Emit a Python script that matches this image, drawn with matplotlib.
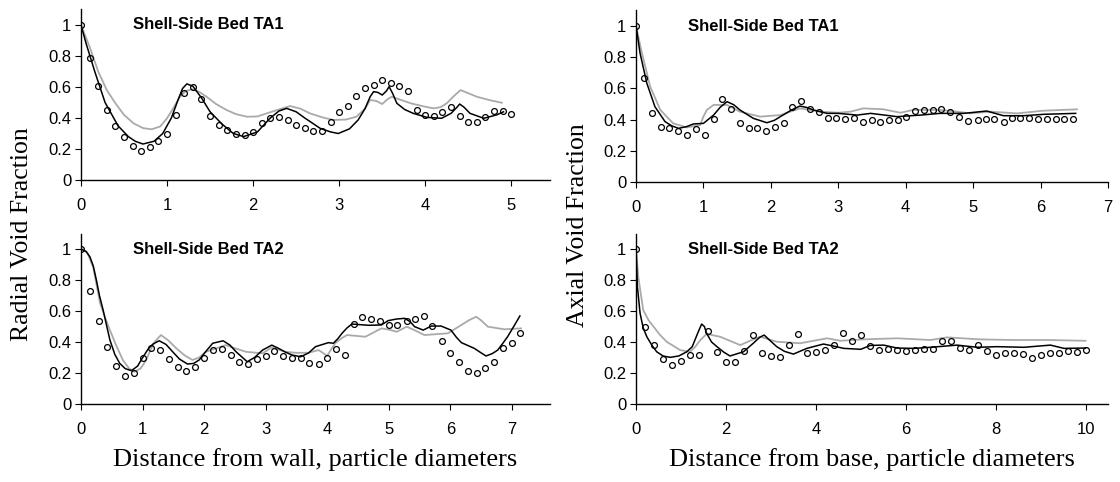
#Void fraction profiles for shell-side beds TA1 and TA2
#Radial (left) and axial (right) profiles, experiment (circles) vs two models (lines)
import matplotlib
matplotlib.use('Agg')
import matplotlib.pyplot as plt

#Radial TA1 - measured points
rad1_x = [0, 0.1, 0.2, 0.3, 0.4, 0.5, 0.6, 0.7, 0.8, 0.9, 1.0, 1.1, 1.2, 1.3, 1.4, 1.5, 1.6,
          1.7, 1.8, 1.9, 2.0, 2.1, 2.2, 2.3, 2.4, 2.5, 2.6, 2.7, 2.8, 2.9, 3.0, 3.1, 3.2, 3.3,
          3.4, 3.5, 3.6, 3.7, 3.8, 3.9, 4.0, 4.1, 4.2, 4.3, 4.4, 4.5, 4.6, 4.7, 4.8, 4.9, 5.0]
rad1_y = [1.0, 0.785, 0.606, 0.452, 0.348, 0.275, 0.219, 0.189, 0.21, 0.254, 0.297, 0.417,
          0.559, 0.598, 0.52, 0.413, 0.357, 0.323, 0.297, 0.288, 0.31, 0.366, 0.398, 0.409,
          0.387, 0.355, 0.333, 0.316, 0.318, 0.374, 0.44, 0.477, 0.544, 0.596, 0.613, 0.645,
          0.624, 0.606, 0.574, 0.452, 0.419, 0.413, 0.439, 0.469, 0.413, 0.376, 0.376, 0.404,
          0.443, 0.443, 0.426]
#Radial TA1 - model lines
rad1_m1_x = [0, 0.06, 0.16, 0.28, 0.43, 0.55, 0.63, 0.72, 0.85, 0.95, 1.05, 1.13, 1.18, 1.23,
             1.3, 1.4, 1.5, 1.64, 1.77, 1.89, 2.05, 2.2, 2.3, 2.39, 2.5, 2.6, 2.78, 2.9, 2.99,
             3.12, 3.22, 3.3, 3.36, 3.4, 3.45, 3.5, 3.55, 3.58, 3.62, 3.67, 3.76, 3.86, 4.02,
             4.19, 4.3, 4.37, 4.4, 4.45, 4.52, 4.68, 4.83, 4.91]
rad1_m1_y = [1.0, 0.88, 0.7, 0.5, 0.35, 0.28, 0.25, 0.232, 0.25, 0.3, 0.4, 0.52, 0.59, 0.62,
             0.605, 0.53, 0.44, 0.36, 0.3, 0.28, 0.31, 0.4, 0.445, 0.462, 0.44, 0.4, 0.333,
             0.31, 0.3, 0.33, 0.387, 0.46, 0.537, 0.57, 0.565, 0.548, 0.575, 0.602, 0.56, 0.495,
             0.455, 0.43, 0.404, 0.398, 0.43, 0.47, 0.49, 0.47, 0.43, 0.398, 0.42, 0.44]
rad1_m2_x = [0, 0.1, 0.2, 0.3, 0.4, 0.5, 0.61, 0.72, 0.82, 0.92, 1.0, 1.08, 1.15, 1.22, 1.29,
             1.37, 1.46, 1.57, 1.69, 1.8, 1.93, 2.05, 2.16, 2.3, 2.43, 2.55, 2.66, 2.8, 2.93,
             3.08, 3.2, 3.3, 3.36, 3.43, 3.5, 3.56, 3.61, 3.7, 3.83, 3.98, 4.1, 4.18, 4.25,
             4.33, 4.41, 4.5, 4.6, 4.75, 4.89]
rad1_m2_y = [1.0, 0.86, 0.7, 0.58, 0.495, 0.42, 0.366, 0.335, 0.327, 0.345, 0.398, 0.47,
             0.537, 0.575, 0.585, 0.57, 0.537, 0.49, 0.452, 0.425, 0.408, 0.41, 0.43, 0.455,
             0.477, 0.46, 0.43, 0.405, 0.387, 0.39, 0.408, 0.46, 0.516, 0.51, 0.49, 0.52, 0.537,
             0.52, 0.495, 0.475, 0.462, 0.47, 0.495, 0.54, 0.58, 0.56, 0.537, 0.515, 0.498]

#Radial TA2 - measured points
rad2_x = [0, 0.14, 0.29, 0.43, 0.57, 0.71, 0.86, 1.0, 1.14, 1.29, 1.43, 1.57, 1.71, 1.86, 2.0,
          2.14, 2.29, 2.43, 2.57, 2.71, 2.86, 3.0, 3.14, 3.29, 3.43, 3.57, 3.71, 3.86, 4.0,
          4.14, 4.29, 4.43, 4.57, 4.71, 4.86, 5.0, 5.14, 5.29, 5.43, 5.57, 5.71, 5.86, 6.0,
          6.14, 6.29, 6.43, 6.57, 6.71, 6.86, 7.0, 7.14]
rad2_y = [1.0, 0.731, 0.538, 0.366, 0.245, 0.181, 0.198, 0.295, 0.363, 0.348, 0.288, 0.241,
          0.215, 0.241, 0.297, 0.348, 0.357, 0.316, 0.273, 0.258, 0.288, 0.31, 0.344, 0.312,
          0.295, 0.295, 0.267, 0.258, 0.295, 0.353, 0.318, 0.516, 0.563, 0.548, 0.538, 0.512,
          0.512, 0.538, 0.55, 0.568, 0.505, 0.408, 0.331, 0.273, 0.215, 0.198, 0.234, 0.273,
          0.359, 0.396, 0.456]
#Radial TA2 - model lines
rad2_m1_x = [0, 0.08, 0.145, 0.2, 0.25, 0.3, 0.36, 0.42, 0.47, 0.55, 0.63, 0.72, 0.82, 0.92,
             1.01, 1.1, 1.17, 1.27, 1.38, 1.49, 1.6, 1.73, 1.83, 1.92, 2.03, 2.14, 2.31, 2.42,
             2.52, 2.7, 2.82, 2.95, 3.1, 3.21, 3.32, 3.43, 3.57, 3.7, 3.81, 4.02, 4.1, 4.17,
             4.24, 4.32, 4.4, 4.67, 4.88, 4.99, 5.12, 5.26, 5.35, 5.42, 5.56, 5.69, 5.85, 6.01,
             6.1, 6.18, 6.39, 6.5, 6.58, 6.68, 6.77, 6.85, 6.93, 7.03, 7.13]
rad2_m1_y = [1.0, 0.985, 0.95, 0.89, 0.8, 0.7, 0.606, 0.5, 0.413, 0.32, 0.262, 0.228, 0.215,
             0.245, 0.305, 0.36, 0.387, 0.408, 0.385, 0.337, 0.29, 0.258, 0.262, 0.284, 0.34,
             0.392, 0.408, 0.38, 0.337, 0.273, 0.3, 0.348, 0.38, 0.359, 0.335, 0.316, 0.305,
             0.33, 0.37, 0.396, 0.392, 0.42, 0.456, 0.49, 0.516, 0.508, 0.51, 0.538, 0.548,
             0.553, 0.53, 0.499, 0.477, 0.503, 0.503, 0.477, 0.43, 0.396, 0.359, 0.33, 0.31,
             0.325, 0.348, 0.39, 0.434, 0.5, 0.568]
rad2_m2_x = [0, 0.1, 0.2, 0.31, 0.39, 0.47, 0.57, 0.68, 0.78, 0.87, 0.97, 1.06, 1.13, 1.2,
             1.3, 1.42, 1.55, 1.68, 1.81, 1.92, 2.03, 2.2, 2.35, 2.5, 2.68, 2.95, 3.1, 3.32,
             3.5, 3.7, 3.86, 3.93, 4.0, 4.06, 4.13, 4.22, 4.32, 4.62, 4.88, 5.0, 5.13, 5.29,
             5.4, 5.58, 5.96, 6.18, 6.3, 6.42, 6.5, 6.61, 6.88, 7.15]
rad2_m2_y = [1.0, 0.98, 0.88, 0.65, 0.56, 0.477, 0.38, 0.284, 0.23, 0.208, 0.23, 0.284,
             0.35, 0.402, 0.445, 0.41, 0.359, 0.315, 0.284, 0.3, 0.337, 0.36, 0.38, 0.36,
             0.337, 0.327, 0.365, 0.337, 0.33, 0.331, 0.348, 0.33, 0.31, 0.35, 0.392, 0.42,
             0.445, 0.434, 0.488, 0.48, 0.466, 0.499, 0.48, 0.445, 0.456, 0.51, 0.54, 0.563,
             0.54, 0.499, 0.482, 0.488]

#Axial TA1 - measured points
ax1_x = [0, 0.12, 0.24, 0.37, 0.49, 0.62, 0.76, 0.89, 1.02, 1.15, 1.28, 1.41, 1.54, 1.67, 1.8,
         1.93, 2.06, 2.19, 2.32, 2.45, 2.58, 2.71, 2.85, 2.97, 3.1, 3.23, 3.36, 3.5, 3.62, 3.75,
         3.88, 4.01, 4.14, 4.27, 4.4, 4.53, 4.66, 4.79, 4.93, 5.07, 5.19, 5.31, 5.45, 5.57,
         5.7, 5.83, 5.96, 6.09, 6.23, 6.35, 6.48]
ax1_y = [1.0, 0.669, 0.44, 0.35, 0.344, 0.329, 0.303, 0.342, 0.303, 0.406, 0.53, 0.47, 0.38,
         0.348, 0.348, 0.329, 0.354, 0.376, 0.479, 0.521, 0.47, 0.447, 0.412, 0.412, 0.404,
         0.412, 0.383, 0.4, 0.387, 0.397, 0.4, 0.417, 0.455, 0.462, 0.462, 0.468, 0.451, 0.419,
         0.394, 0.397, 0.404, 0.404, 0.387, 0.412, 0.412, 0.408, 0.404, 0.404, 0.404, 0.404,
         0.404]
#Axial TA1 - model lines
ax1_m1_x = [0, 0.06, 0.16, 0.28, 0.43, 0.53, 0.63, 0.75, 0.85, 1.0, 1.15, 1.25, 1.35, 1.45,
            1.54, 1.74, 1.94, 2.05, 2.14, 2.3, 2.43, 2.53, 2.63, 2.83, 3.0, 3.28, 3.48, 3.87,
            4.22, 4.51, 4.86, 5.2, 5.45, 5.75, 6.05, 6.52]
ax1_m1_y = [1.0, 0.825, 0.633, 0.483, 0.387, 0.36, 0.344, 0.355, 0.372, 0.376, 0.429, 0.48,
            0.515, 0.495, 0.462, 0.408, 0.38, 0.395, 0.419, 0.46, 0.487, 0.478, 0.462, 0.44,
            0.44, 0.429, 0.44, 0.419, 0.429, 0.44, 0.44, 0.455, 0.425, 0.425, 0.434, 0.44]
ax1_m2_x = [0, 0.08, 0.21, 0.36, 0.55, 0.75, 0.95, 1.0, 1.05, 1.15, 1.35, 1.54, 1.84, 2.14,
            2.43, 2.73, 3.0, 3.18, 3.37, 3.67, 3.92, 4.11, 4.51, 4.76, 4.95, 5.25, 5.65, 6.04,
            6.54]
ax1_m2_y = [1.0, 0.84, 0.611, 0.462, 0.376, 0.35, 0.365, 0.42, 0.462, 0.494, 0.494, 0.451,
            0.419, 0.429, 0.472, 0.451, 0.444, 0.451, 0.472, 0.466, 0.444, 0.462, 0.462, 0.451,
            0.44, 0.451, 0.44, 0.457, 0.466]

#Axial TA2 - measured points
ax2_x = [0, 0.2, 0.4, 0.6, 0.8, 1.0, 1.2, 1.4, 1.6, 1.8, 2.0, 2.2, 2.4, 2.6, 2.8, 3.0, 3.2,
         3.4, 3.6, 3.8, 4.0, 4.2, 4.4, 4.6, 4.8, 5.0, 5.2, 5.4, 5.6, 5.8, 6.0, 6.2, 6.4, 6.6,
         6.8, 7.0, 7.2, 7.4, 7.6, 7.8, 8.0, 8.2, 8.4, 8.6, 8.8, 9.0, 9.2, 9.4, 9.6, 9.8, 10.0]
ax2_y = [1.0, 0.495, 0.381, 0.292, 0.254, 0.279, 0.316, 0.318, 0.471, 0.333, 0.269, 0.269,
         0.344, 0.443, 0.327, 0.31, 0.301, 0.379, 0.452, 0.327, 0.335, 0.348, 0.379, 0.46,
         0.408, 0.443, 0.374, 0.348, 0.353, 0.348, 0.344, 0.348, 0.357, 0.357, 0.408, 0.408,
         0.359, 0.348, 0.38, 0.342, 0.314, 0.331, 0.331, 0.321, 0.299, 0.314, 0.331, 0.331,
         0.342, 0.337, 0.348]
#Axial TA2 - model lines
ax2_m1_x = [0, 0.03, 0.09, 0.16, 0.24, 0.35, 0.46, 0.6, 0.76, 0.95, 1.13, 1.25, 1.31, 1.39,
            1.46, 1.52, 1.57, 1.68, 1.8, 1.95, 2.09, 2.39, 2.6, 2.75, 2.85, 2.98, 3.13, 3.3,
            3.5, 3.8, 4.17, 4.39, 4.62, 5.0, 5.21, 5.51, 5.81, 6.18, 6.55, 7.14, 7.59, 8.03,
            8.63, 9.22, 9.52, 10.0]
ax2_m1_y = [1.0, 0.757, 0.585, 0.49, 0.434, 0.38, 0.337, 0.31, 0.301, 0.31, 0.337, 0.37,
            0.413, 0.47, 0.516, 0.5, 0.456, 0.4, 0.37, 0.335, 0.31, 0.337, 0.39, 0.43, 0.445,
            0.41, 0.37, 0.34, 0.322, 0.359, 0.387, 0.374, 0.359, 0.353, 0.378, 0.38, 0.361,
            0.359, 0.366, 0.38, 0.366, 0.37, 0.366, 0.38, 0.359, 0.361]
ax2_m2_x = [0, 0.05, 0.16, 0.28, 0.39, 0.52, 0.68, 0.98, 1.2, 1.32, 1.43, 1.57, 1.87, 2.32,
            2.55, 2.76, 3.13, 3.65, 4.25, 4.54, 5.06, 5.81, 6.55, 6.92, 7.66, 8.4, 9.15, 10.0]
ax2_m2_y = [1.0, 0.82, 0.606, 0.54, 0.499, 0.45, 0.402, 0.348, 0.337, 0.37, 0.413, 0.452,
            0.434, 0.38, 0.41, 0.434, 0.402, 0.392, 0.424, 0.408, 0.417, 0.424, 0.413, 0.43,
            0.417, 0.413, 0.413, 0.408]

y_ticks = [0, 0.2, 0.4, 0.6, 0.8, 1.0]
y_tick_labels = ['0', '0.2', '0.4', '0.6', '0.8', '1']

tick_font = 'Liberation Sans'
label_font = 'Liberation Serif'


def draw_panel(ax, px, py, m1x, m1y, m2x, m2y, title, xmax, xticks):
    ax.plot(m2x, m2y, color='#aaaaaa', lw=1.3, zorder=2)
    ax.plot(m1x, m1y, color='black', lw=1.1, zorder=3)
    ax.plot(px, py, 'o', ms=4.2, mfc='none', mec='black', mew=0.9, zorder=4)
    ax.set_xlim(0, xmax)
    ax.set_ylim(0, 1.1)
    ax.set_yticks(y_ticks)
    ax.set_yticklabels(y_tick_labels)
    ax.set_xticks(xticks)
    ax.set_xticklabels([str(t) for t in xticks])
    for side in ['top', 'right']:
        ax.spines[side].set_visible(False)
    for side in ['left', 'bottom']:
        ax.spines[side].set_linewidth(1.0)
    ax.tick_params(axis='x', direction='out', length=4, width=0.8, pad=9)
    ax.tick_params(axis='y', direction='out', length=4, width=0.8, pad=3)
    for lab in ax.get_xticklabels() + ax.get_yticklabels():
        lab.set_fontfamily(tick_font)
        lab.set_fontsize(12)
    #title sits at the level of y = 1 (x in axes fraction, y in data units)
    ax.text(0.11, 1.0, title, transform=ax.get_yaxis_transform(),
            fontsize=12, fontweight='bold', family=tick_font, va='center', ha='left')


fig = plt.figure(figsize=(11.2, 4.82), dpi=100)

ax_tl = fig.add_axes([0.0723, 0.6266, 0.4188, 0.3537])
ax_bl = fig.add_axes([0.0723, 0.1618, 0.4188, 0.3537])
ax_tr = fig.add_axes([0.5679, 0.6224, 0.4214, 0.3560])
ax_br = fig.add_axes([0.5679, 0.1618, 0.4214, 0.3537])

draw_panel(ax_tl, rad1_x, rad1_y, rad1_m1_x, rad1_m1_y, rad1_m2_x, rad1_m2_y,
           'Shell-Side Bed TA1', 5.45, [0, 1, 2, 3, 4, 5])
draw_panel(ax_bl, rad2_x, rad2_y, rad2_m1_x, rad2_m1_y, rad2_m2_x, rad2_m2_y,
           'Shell-Side Bed TA2', 7.62, [0, 1, 2, 3, 4, 5, 6, 7])
draw_panel(ax_tr, ax1_x, ax1_y, ax1_m1_x, ax1_m1_y, ax1_m2_x, ax1_m2_y,
           'Shell-Side Bed TA1', 7.0, [0, 1, 2, 3, 4, 5, 6, 7])
draw_panel(ax_br, ax2_x, ax2_y, ax2_m1_x, ax2_m1_y, ax2_m2_x, ax2_m2_y,
           'Shell-Side Bed TA2', 10.5, [0, 2, 4, 6, 8, 10])

#Shared axis titles in Times-like serif
fig.text(22 / 1120, 1 - 234 / 482, 'Radial Void Fraction', rotation=90, ha='center',
         va='center', fontsize=18.5, family=label_font)
fig.text(578 / 1120, 1 - 225 / 482, 'Axial Void Fraction', rotation=90, ha='center',
         va='center', fontsize=18.5, family=label_font)
fig.text(315 / 1120, 1 - 460 / 482, 'Distance from wall, particle diameters', ha='center',
         va='center', fontsize=19, family=label_font)
fig.text(872 / 1120, 1 - 460 / 482, 'Distance from base, particle diameters', ha='center',
         va='center', fontsize=19, family=label_font)

plt.savefig('out.png', dpi=100)
